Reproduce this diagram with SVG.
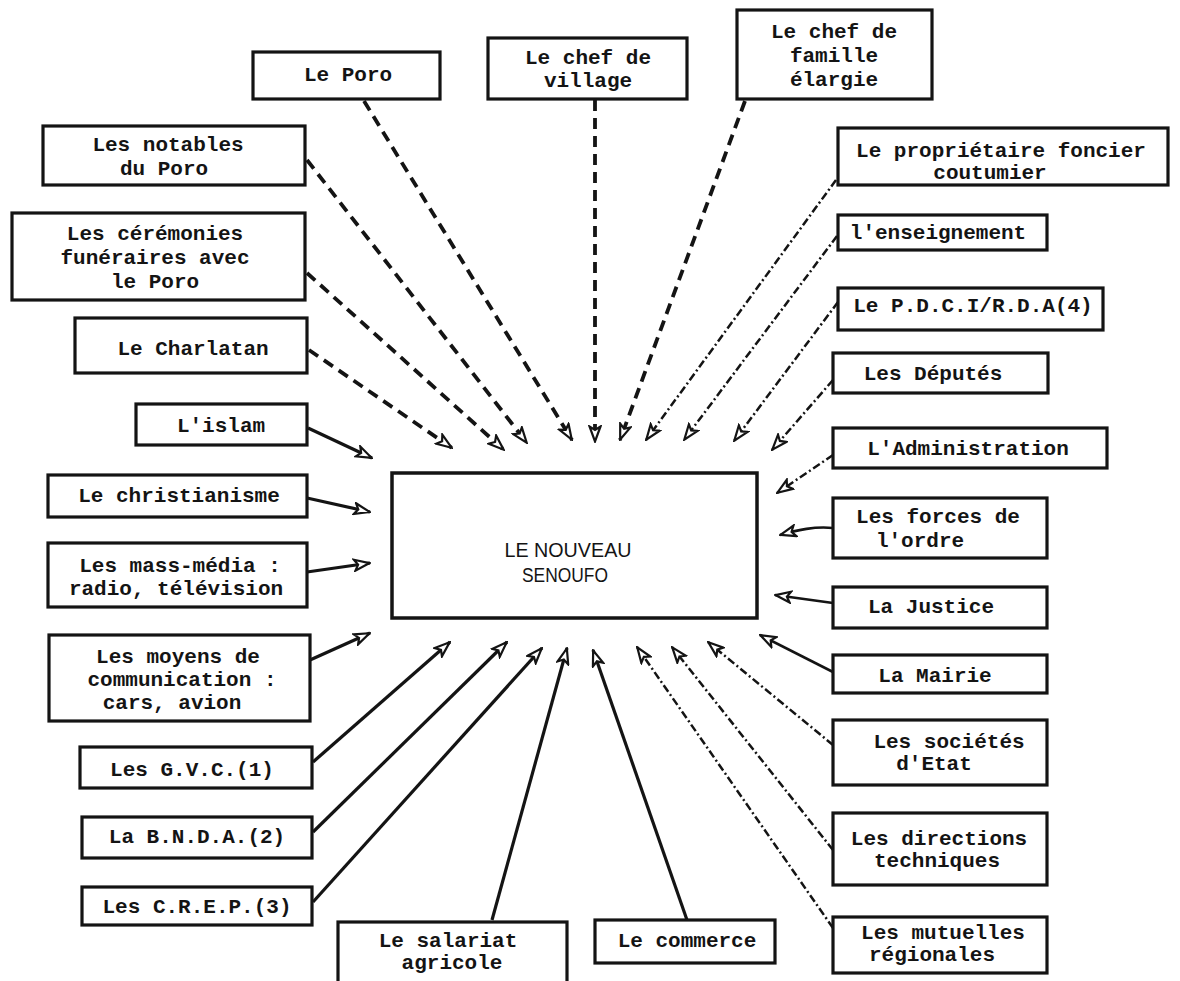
<svg xmlns="http://www.w3.org/2000/svg" width="1180" height="981" viewBox="0 0 1180 981">
<style>
.bg{fill:#ffffff}
.box{fill:#ffffff;stroke:#141414;stroke-width:3.2}
.cbox{fill:#ffffff;stroke:#141414;stroke-width:3.5}
.t{font-family:"Liberation Mono","DejaVu Sans Mono",monospace;font-weight:bold;font-size:21px;fill:#141414;text-anchor:middle}
.ct{font-family:"Liberation Sans","DejaVu Sans",sans-serif;font-size:21px;fill:#141414;text-anchor:middle}
.c{fill:none;stroke:#141414;marker-end:url(#ah)}
.dash{stroke-width:3.8;stroke-dasharray:11 7}
.tdash{stroke-width:2.5;stroke-dasharray:8 3 2 3}
.thin{stroke-width:2.6}
.solid{stroke-width:3.2}
</style>
<defs>
<marker id="ah" viewBox="0 0 18 14" refX="17" refY="7" markerWidth="18" markerHeight="14" markerUnits="userSpaceOnUse" orient="auto">
<path d="M1.5,1.5 L16.5,7 L1.5,12.5 L5,7 Z" fill="#ffffff" stroke="#141414" stroke-width="2.2" stroke-dasharray="none"/>
</marker>
</defs>
<rect class="bg" x="0" y="0" width="1180" height="981"/>

<g id="connectors">
<path class="c dash" d="M364,101 L572,440"/>
<path class="c dash" d="M307,160 L527,443"/>
<path class="c dash" d="M307,273 L504,450"/>
<path class="c dash" d="M309,350 L452,448"/>
<path class="c dash" d="M595,100 L595,442"/>
<path class="c dash" d="M745,101 L620,440"/>
<path class="c tdash" d="M836,180 L646,440"/>
<path class="c tdash" d="M837,236 L684,440"/>
<path class="c tdash" d="M838,302 L734,441"/>
<path class="c tdash" d="M833,380 L772,450"/>
<path class="c tdash" d="M833,455 L777,493"/>
<path class="c thin" d="M833,528 C815,526 798,530 780,535"/>
<path class="c thin" d="M833,603 L775,595"/>
<path class="c thin" d="M833,672 L760,635"/>
<path class="c tdash" d="M833,745 L708,642"/>
<path class="c tdash" d="M833,850 L672,647"/>
<path class="c tdash" d="M833,928 L637,647"/>
<path class="c solid" d="M308,428 L372,458"/>
<path class="c solid" d="M307,498 L370,512"/>
<path class="c solid" d="M307,572 L370,563"/>
<path class="c solid" d="M310,660 L370,633"/>
<path class="c solid" d="M313,762 L450,642"/>
<path class="c solid" d="M313,832 L507,642"/>
<path class="c solid" d="M313,902 L542,648"/>
<path class="c solid" d="M492,920 L567,648"/>
<path class="c solid" d="M687,920 L593,650"/>
</g>

<g id="center">
<rect class="cbox" x="392" y="473" width="365" height="145"/>
<text class="ct" x="568" y="557" textLength="127" lengthAdjust="spacingAndGlyphs">LE NOUVEAU</text>
<text class="ct" x="565" y="582" textLength="86" lengthAdjust="spacingAndGlyphs">SENOUFO</text>
</g>

<g id="poro"><rect class="box" x="253" y="52" width="187" height="47"/><text class="t" x="348" y="81">Le Poro</text></g>
<g id="village"><rect class="box" x="488" y="38" width="199" height="61"/><text class="t" x="588" y="64">Le chef de</text><text class="t" x="588" y="87">village</text></g>
<g id="famille"><rect class="box" x="737" y="10" width="195" height="89"/><text class="t" x="834" y="38">Le chef de</text><text class="t" x="834" y="62">famille</text><text class="t" x="834" y="86">élargie</text></g>
<g id="notables"><rect class="box" x="43" y="126" width="262" height="59"/><text class="t" x="168" y="151">Les notables</text><text class="t" x="164" y="175">du Poro</text></g>
<g id="ceremonies"><rect class="box" x="12" y="213" width="293" height="87"/><text class="t" x="155" y="240">Les cérémonies</text><text class="t" x="155" y="264">funéraires avec</text><text class="t" x="155" y="288">le Poro</text></g>
<g id="charlatan"><rect class="box" x="75" y="318" width="232" height="55"/><text class="t" x="193" y="355">Le Charlatan</text></g>
<g id="islam"><rect class="box" x="136" y="404" width="171" height="41"/><text class="t" x="221" y="432">L'islam</text></g>
<g id="christianisme"><rect class="box" x="48" y="475" width="259" height="42"/><text class="t" x="179" y="502">Le christianisme</text></g>
<g id="massmedia"><rect class="box" x="48" y="543" width="259" height="64"/><text class="t" x="180" y="572">Les mass-média :</text><text class="t" x="176" y="595">radio, télévision</text></g>
<g id="moyens"><rect class="box" x="49" y="635" width="261" height="86"/><text class="t" x="178" y="663">Les moyens de</text><text class="t" x="182" y="686">communication :</text><text class="t" x="172" y="709">cars, avion</text></g>
<g id="gvc"><rect class="box" x="80" y="747" width="232" height="41"/><text class="t" x="192" y="776">Les G.V.C.(1)</text></g>
<g id="bnda"><rect class="box" x="82" y="817" width="230" height="41"/><text class="t" x="197" y="843">La B.N.D.A.(2)</text></g>
<g id="crep"><rect class="box" x="82" y="887" width="230" height="38"/><text class="t" x="197" y="913">Les C.R.E.P.(3)</text></g>
<g id="salariat"><rect class="box" x="338" y="922" width="229" height="62"/><text class="t" x="448" y="947">Le salariat</text><text class="t" x="452" y="969">agricole</text></g>
<g id="commerce"><rect class="box" x="595" y="920" width="180" height="43"/><text class="t" x="687" y="947">Le commerce</text></g>
<g id="proprietaire"><rect class="box" x="838" y="128" width="330" height="57"/><text class="t" x="1001" y="157">Le propriétaire foncier</text><text class="t" x="990" y="179">coutumier</text></g>
<g id="enseignement"><rect class="box" x="838" y="215" width="209" height="35"/><text class="t" x="938" y="239">l'enseignement</text></g>
<g id="pdci"><rect class="box" x="838" y="288" width="265" height="42"/><text class="t" x="973" y="312">Le P.D.C.I/R.D.A(4)</text></g>
<g id="deputes"><rect class="box" x="833" y="353" width="215" height="40"/><text class="t" x="933" y="380">Les Députés</text></g>
<g id="administration"><rect class="box" x="833" y="428" width="274" height="40"/><text class="t" x="968" y="455">L'Administration</text></g>
<g id="forces"><rect class="box" x="833" y="498" width="214" height="60"/><text class="t" x="938" y="523">Les forces de</text><text class="t" x="920" y="547">l'ordre</text></g>
<g id="justice"><rect class="box" x="833" y="587" width="214" height="41"/><text class="t" x="931" y="613">La Justice</text></g>
<g id="mairie"><rect class="box" x="833" y="655" width="214" height="38"/><text class="t" x="935" y="682">La Mairie</text></g>
<g id="societes"><rect class="box" x="833" y="720" width="214" height="65"/><text class="t" x="949" y="748">Les sociétés</text><text class="t" x="934" y="770">d'Etat</text></g>
<g id="directions"><rect class="box" x="833" y="813" width="214" height="72"/><text class="t" x="939" y="845">Les directions</text><text class="t" x="937" y="867">techniques</text></g>
<g id="mutuelles"><rect class="box" x="833" y="917" width="214" height="56"/><text class="t" x="943" y="939">Les mutuelles</text><text class="t" x="932" y="961">régionales</text></g>
</svg>
